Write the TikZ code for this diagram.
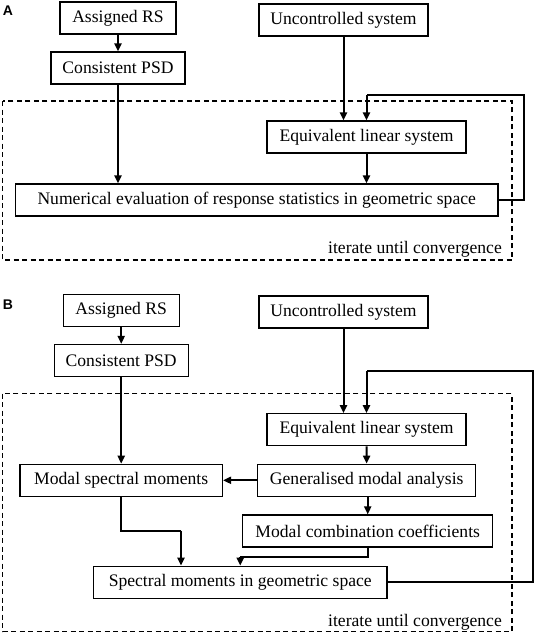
\documentclass[tikz,border=0pt]{standalone}
\usepackage{fontspec}
\setmainfont{Liberation Serif}
\newfontfamily\labelfont{Liberation Sans}
\usetikzlibrary{arrows.meta}
\tikzset{
  box/.style={draw, line width=1.2pt, minimum height=32pt, inner sep=0pt, font=\fontsize{17.6}{20}\selectfont},
  conn/.style={line width=2pt, -{Triangle[length=8pt,width=7pt]}},
  fb/.style={line width=2pt},
  loopbox/.style={draw, line width=1.2pt, dash pattern=on 5pt off 3.5pt},
  itertext/.style={anchor=east, inner sep=0pt, font=\fontsize{17.6}{20}\selectfont},
  panel/.style={inner sep=0pt, font=\labelfont\bfseries\fontsize{14}{16}\selectfont}
}
\begin{document}
\begin{tikzpicture}[x=1pt,y=-1pt]
\useasboundingbox (0,0) rectangle (536,635);
% ---------- Panel A ----------
\node[panel] (labA) at (8,11) {A};
\draw[loopbox] (2.7,101) rectangle (512,260);
\node[itertext] (itA) at (502,249) {iterate until convergence};
\node[box, minimum width=116pt] (aRS) at (118,18) {Assigned RS};
\node[box, minimum width=134pt] (aPSD) at (118,68) {Consistent PSD};
\node[box, minimum width=169pt] (aUC) at (343.5,20) {Uncontrolled system};
\node[box, minimum width=199pt] (aEq) at (366.5,137) {Equivalent linear system};
\node[box, minimum width=482.6pt] (aNum) at (256.7,200) {Numerical evaluation of response statistics in geometric space};
\coordinate (aF1) at (524,200);
\coordinate (aF2) at (524,95);
\coordinate (aF3) at (366.5,95);
\draw[conn] (aRS) -- (aPSD);
\draw[conn] (aPSD.south) -- (aPSD.south |- aNum.north);
\draw[conn] (aUC.south) -- (aUC.south |- aEq.north);
\draw[conn] (aEq.south) -- (aEq.south |- aNum.north);
\draw[fb] (aNum.east) -- (aF1) -- (aF2) -- (aF3);
\draw[conn] (aF3) -- (aEq.north);
% ---------- Panel B ----------
\node[panel] (labB) at (8,305) {B};
\draw[loopbox] (2.7,393.7) rectangle (512,631.7);
\node[itertext] (itB) at (502,622.5) {iterate until convergence};
\node[box, minimum width=116pt] (bRS) at (121.2,310.7) {Assigned RS};
\node[box, minimum width=134pt] (bPSD) at (121.2,360.5) {Consistent PSD};
\node[box, minimum width=169pt] (bUC) at (343.5,312) {Uncontrolled system};
\node[box, minimum width=199pt] (bEq) at (366.5,429.7) {Equivalent linear system};
\node[box, minimum width=218pt] (bGen) at (366.7,480.3) {Generalised modal analysis};
\node[box, minimum width=202.5pt] (bMSM) at (121.2,480.3) {Modal spectral moments};
\node[box, minimum width=250.2pt] (bMCC) at (367.7,531) {Modal combination coefficients};
\node[box, minimum width=293.3pt] (bSM) at (240.25,582.3) {Spectral moments in geometric space};
\coordinate (bF1) at (533,582.3);
\coordinate (bF2) at (533,371);
\coordinate (bF3) at (366.5,371);
\coordinate (bM1) at (121.2,530.7);
\coordinate (bM2) at (181,530.7);
\coordinate (bC1) at (367.7,556.7);
\coordinate (bC2) at (240.25,556.7);
\draw[conn] (bRS) -- (bPSD);
\draw[conn] (bPSD.south) -- (bPSD.south |- bMSM.north);
\draw[conn] (bUC.south) -- (bUC.south |- bEq.north);
\draw[conn] (bEq) -- (bGen);
\draw[conn] (bGen) -- (bMSM);
\draw[conn] (bGen.south -| bMCC.north) -- (bMCC.north);
\draw[fb] (bMSM.south) -- (bM1) -- (bM2);
\draw[conn] (bM2) -- (bM2 |- bSM.north);
\draw[fb] (bMCC.south) -- (bC1) -- (bC2);
\draw[conn] (bC2) -- (bSM.north);
\draw[fb] (bSM.east) -- (bF1) -- (bF2) -- (bF3);
\draw[conn] (bF3) -- (bEq.north);
\end{tikzpicture}
\end{document}
